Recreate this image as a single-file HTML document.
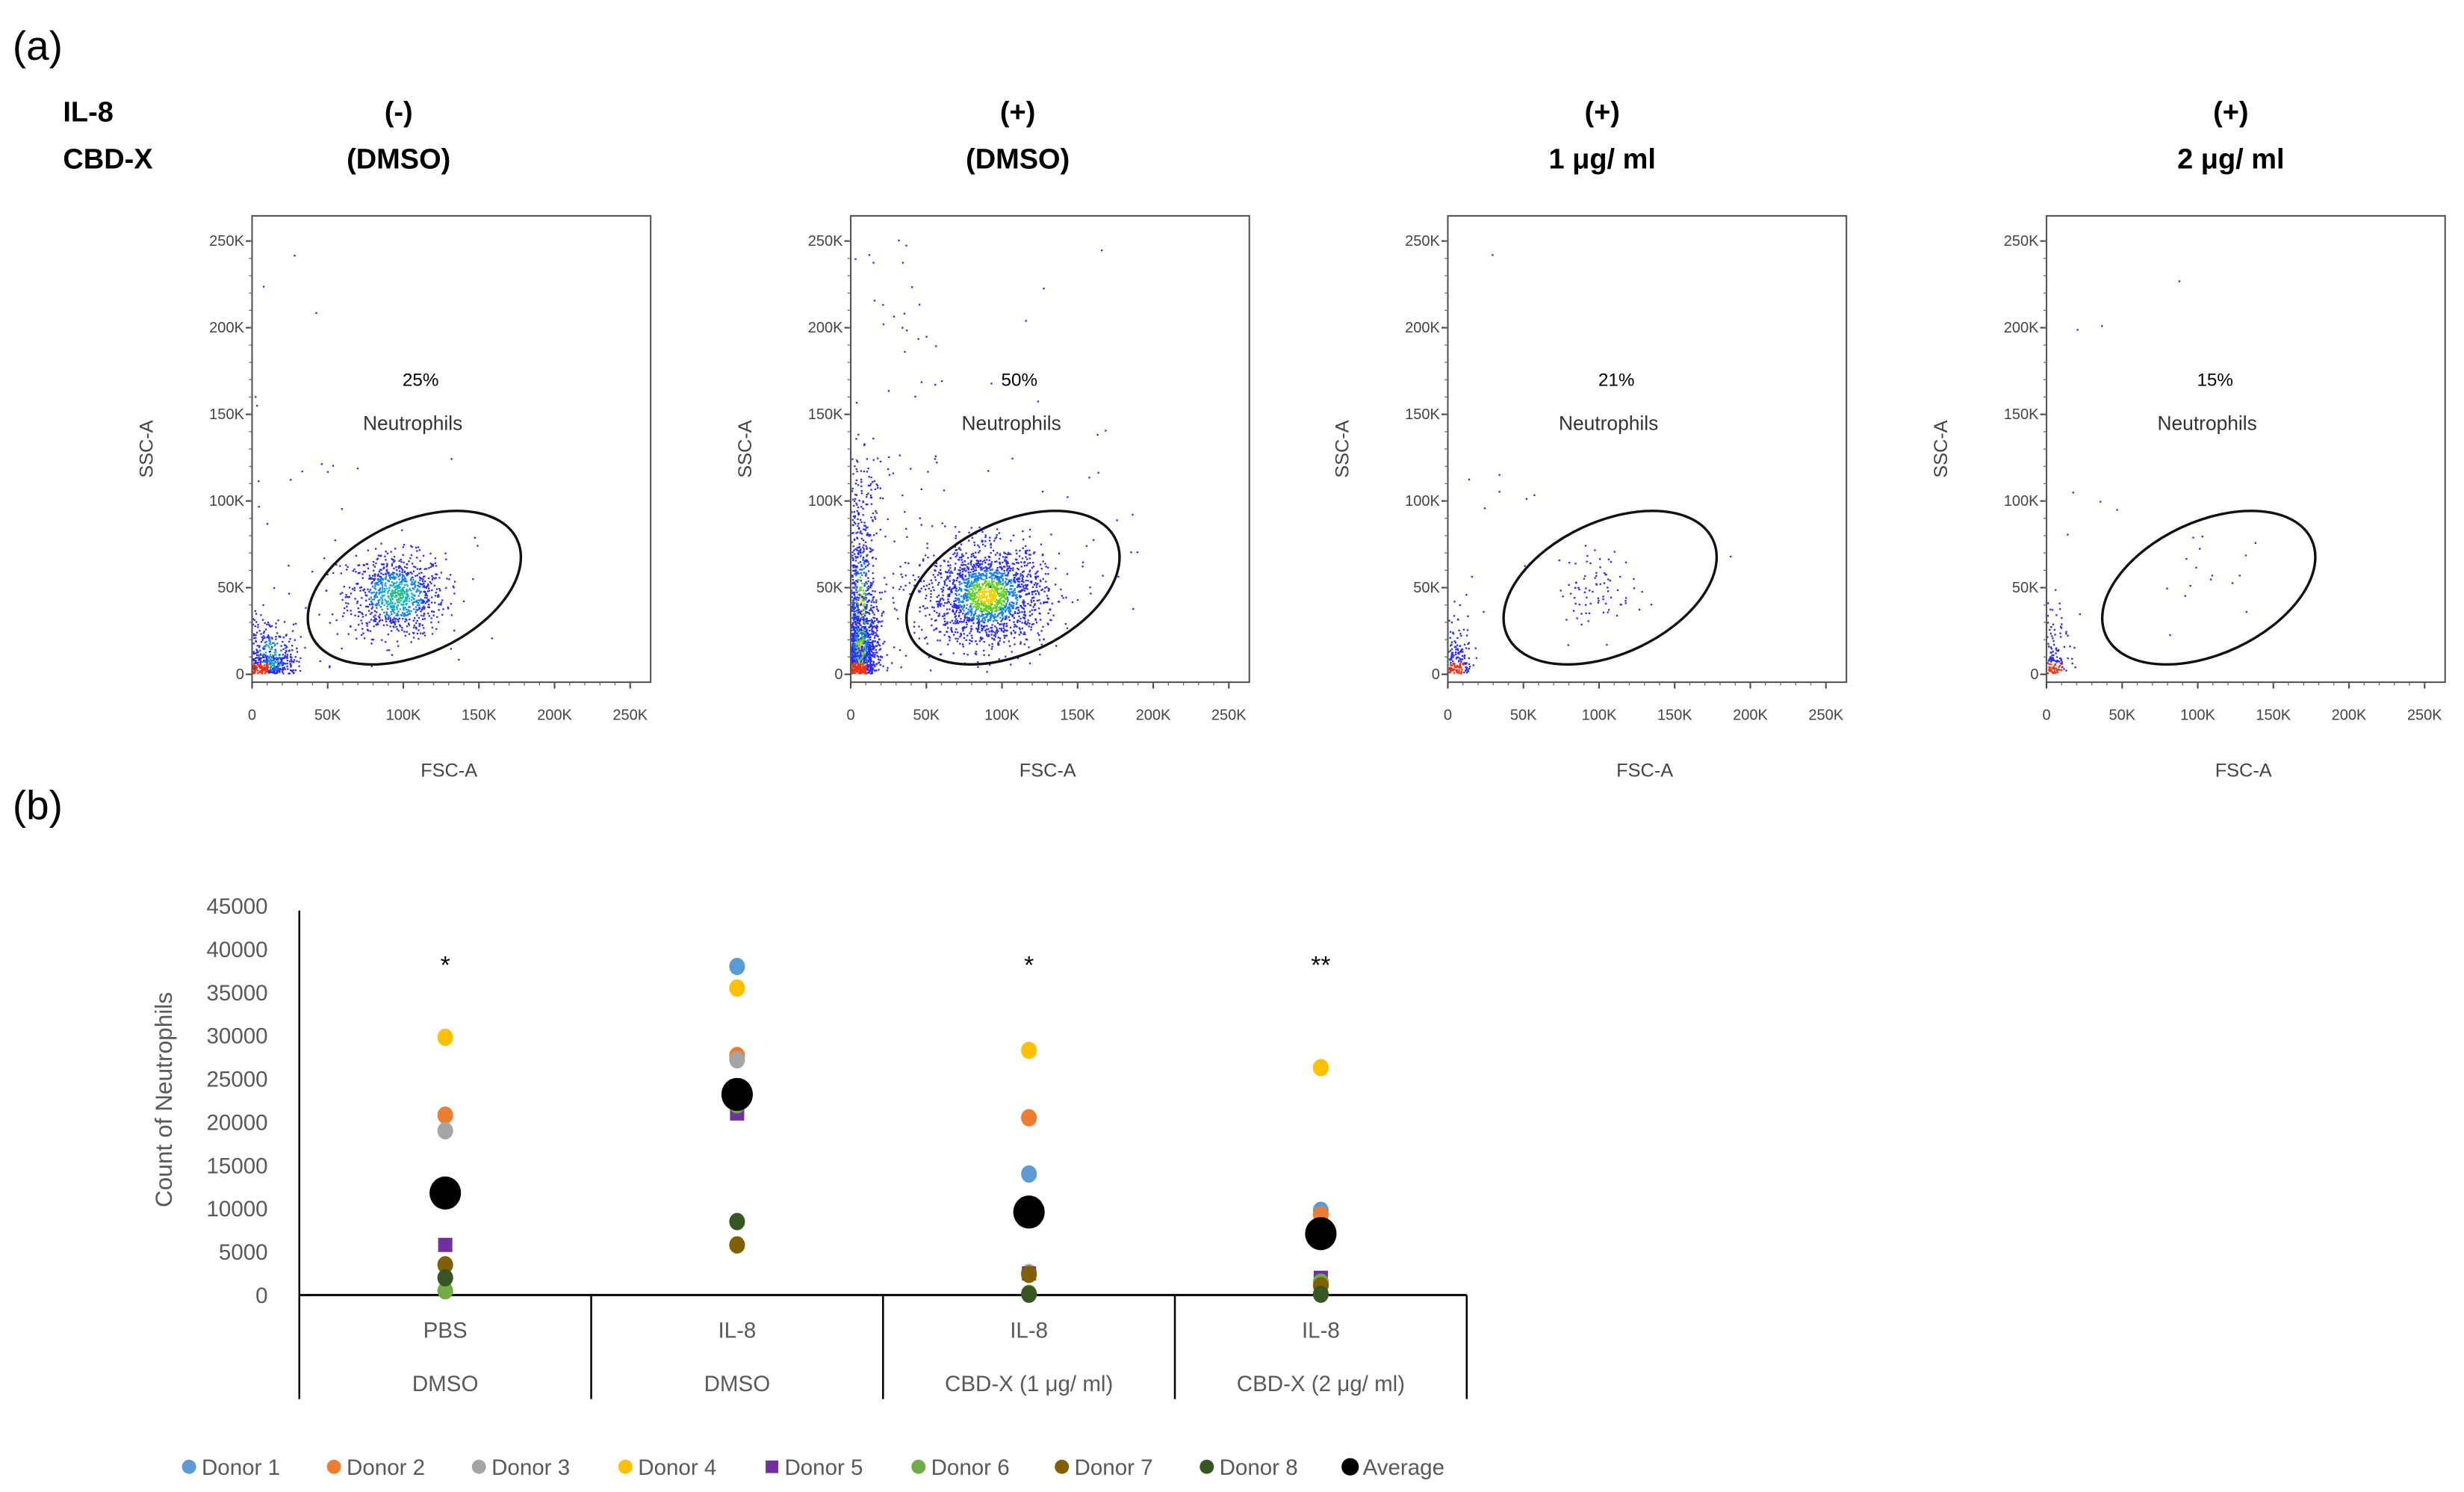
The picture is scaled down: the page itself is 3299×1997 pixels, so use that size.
<!DOCTYPE html>
<html><head><meta charset="utf-8"><style>
html,body{margin:0;padding:0;background:#fff;}
svg{display:block;font-family:"Liberation Sans",sans-serif;}
</style></head><body>
<svg id="fig" width="3299" height="1997" viewBox="0 0 1564 947" preserveAspectRatio="none" xmlns="http://www.w3.org/2000/svg">
<rect width="1564" height="947" fill="#fff"/>
<text x="8" y="38" font-size="26">(a)</text>
<text x="8" y="520" font-size="26">(b)</text>
<text x="40" y="77" font-size="18" font-weight="bold">IL-8</text>
<text x="40" y="107" font-size="18" font-weight="bold">CBD-X</text>
<g id="flow"></g>
<g id="chart"></g>
</svg>
<script>
const NS="http://www.w3.org/2000/svg";
function mk(tag,attrs,parent){const e=document.createElementNS(NS,tag);for(const k in attrs)e.setAttribute(k,attrs[k]);parent.appendChild(e);return e;}

/* ---------- flow cytometry panels ---------- */
const panelHead1=["(-)","(+)","(+)","(+)"];
const panelHead2=["(DMSO)","(DMSO)","1 μg/ ml","2 μg/ ml"];
const panelPct=["25%","50%","21%","15%"];
const panelLeft=[160,540,919,1299];
const headCenter=[253,646,1017,1416];
const flowTicks=[0,50,100,150,200,250];
// clusters: [cxK, cyK, sdxK, sdyK, count]
const neutroCluster=[[95,45,16,12,900],[90,45,19,14,1800],[97,50,12,11,80],[105,55,18,14,12]];
const debrisCluster=[[12,12,9,10,450],[6,35,6,40,1300],[6,12,5,12,160],[5,15,5,16,120]];
const sparseCount=[40,160,14,12];

let seed=12345;
function rnd(){seed=(seed*1103515245+12345)%2147483648;return seed/2147483648;}
function gauss(){let u=rnd()||1e-6,v=rnd();return Math.sqrt(-2*Math.log(u))*Math.cos(2*Math.PI*v);}

const flow=document.getElementById('flow');
const pTop=137,pBot=433,y0=428,ykpx=1.1,xkpx=0.96,boxW=253;
panelLeft.forEach((L,i)=>{
  const g=mk('g',{},flow);
  
  
  const h1=mk('text',{x:headCenter[i],y:77,'font-size':18,'font-weight':'bold','text-anchor':'middle'},g);h1.textContent=panelHead1[i];
  
  const h2=mk('text',{x:headCenter[i],y:107,'font-size':18,'font-weight':'bold','text-anchor':'middle'},g);h2.textContent=panelHead2[i];
  
  const X=k=>L+k*xkpx, Y=k=>y0-k*ykpx;
  const dots=[];
  const nc=neutroCluster[i],dc=debrisCluster[i];
  for(let n=0;n<nc[4];n++){const a=gauss(),b=gauss();dots.push([nc[0]+a*nc[2],nc[1]+b*nc[3],Math.sqrt(a*a+b*b),nc[4]]);}
  for(let n=0;n<dc[4];n++){const a=gauss(),b=gauss();dots.push([Math.abs(dc[0]+a*dc[2]),Math.abs(dc[1]+b*dc[3])*(rnd()<0.5?0.4:1),Math.sqrt(a*a+b*b)*1.3,dc[4]]);}
  for(let n=0;n<sparseCount[i];n++){dots.push([rnd()*120*(rnd()<0.6?0.5:1.6),rnd()*250*(rnd()<0.6?0.5:1),9,0]);}
  dots.forEach(d=>{
    if(d[0]<0||d[0]>258||d[1]<0||d[1]>265)return;
    let c='#2a2aff';
    if(d[3]>300){if(d[2]<0.35)c=(d[3]>1000?'#f0d000':'#20c080');else if(d[2]<0.7)c=(d[3]>1000?'#60d020':'#10b0d0');else if(d[2]<1.1)c='#1080f0';}
    if(d[3]>100&&d[0]<10&&d[1]<6)c='#f03010';
    const r=mk('rect',{x:X(d[0]).toFixed(1),y:(Y(d[1])-1).toFixed(1),width:1.1,height:1.1,fill:c},g);
    
  });
  const box=mk('rect',{x:L,y:pTop,width:boxW,height:pBot-pTop,fill:'none',stroke:'#555','stroke-width':1},g);
  
  flowTicks.forEach(t=>{
    const ty=mk('text',{x:L-5,y:Y(t)+3,'font-size':9.5,'text-anchor':'end',fill:'#444'},g);ty.textContent=t===0?'0':t+'K';
    
    mk('line',{x1:L-4,x2:L,y1:Y(t),y2:Y(t),stroke:'#444'},g);
    const tx=mk('text',{x:X(t),y:457,'font-size':9.5,'text-anchor':'middle',fill:'#444'},g);tx.textContent=t===0?'0':t+'K';
    
    mk('line',{x1:X(t),x2:X(t),y1:pBot,y2:pBot+4,stroke:'#444'},g);
  });
  for(let t=10;t<260;t+=10){mk('line',{x1:L-2,x2:L,y1:Y(t),y2:Y(t),stroke:'#666','stroke-width':0.6},g);mk('line',{x1:X(t),x2:X(t),y1:pBot,y2:pBot+2,stroke:'#666','stroke-width':0.6},g);}
  const fx=mk('text',{x:L+125,y:493,'font-size':12,'text-anchor':'middle',fill:'#444'},g);fx.textContent='FSC-A';
  
  const sy=mk('text',{x:0,y:0,'font-size':12,'text-anchor':'middle',fill:'#444',transform:`translate(${L-63},285) rotate(-90)`},g);sy.textContent='SSC-A';
  
  const pc=mk('text',{x:L+107,y:245,'font-size':11.5,'text-anchor':'middle'},g);pc.textContent=panelPct[i];
  
  const nl=mk('text',{x:L+102,y:273,'font-size':12.5,'text-anchor':'middle',fill:'#333'},g);nl.textContent='Neutrophils';
  
  const el=mk('ellipse',{cx:0,cy:0,rx:72,ry:42,fill:'none',stroke:'#111','stroke-width':1.6,transform:`translate(${L+103},373) rotate(-25)`},g);
  
});

/* ---------- dot chart (b) ---------- */
const categories1=["PBS","IL-8","IL-8","IL-8"];
const categories2=["DMSO","DMSO","CBD-X (1 μg/ ml)","CBD-X (2 μg/ ml)"];
const yTicks=[0,5000,10000,15000,20000,25000,30000,35000,40000,45000];
const seriesNames=["Donor 1","Donor 2","Donor 3","Donor 4","Donor 5","Donor 6","Donor 7","Donor 8","Average"];
const seriesColors=["#5B9BD5","#ED7D31","#A5A5A5","#FFC000","#7030A0","#70AD47","#806000","#375623","#000000"];
const donor1=[11500,38000,14000,9800];
const donor2=[20800,27700,20500,9300];
const donor3=[19000,27200,2600,1200];
const donor4=[29800,35500,28300,26300];
const donor5=[5800,21000,2500,2000];
const donor6=[500,22000,200,1500];
const donor7=[3500,5800,2400,1100];
const donor8=[2000,8500,100,100];
const average=[11800,23200,9600,7100];
const stars=["*","","*","**"];
const seriesValues=[donor1,donor2,donor3,donor4,donor5,donor6,donor7,donor8,average];

const chart=document.getElementById('chart');
const cx0=190,cx1=931,cy0=822,cyTop=575,yMax=45000;
const yS=v=>cy0-(v/yMax)*(cy0-cyTop);
const catW=(cx1-cx0)/categories1.length;
const xS=i=>cx0+catW*(i+0.5);
yTicks.forEach(t=>{const e=mk('text',{x:170,y:yS(t)+5,'font-size':14,'text-anchor':'end',fill:'#595959'},chart);e.textContent=t;
  });
const yt=mk('text',{x:0,y:0,'font-size':15,'text-anchor':'middle',fill:'#595959',transform:`translate(109,698) rotate(-90)`},chart);yt.textContent='Count of Neutrophils';

const ya=mk('line',{x1:cx0,x2:cx0,y1:578,y2:888,stroke:'#000','stroke-width':1.2},chart);

const xa=mk('line',{x1:cx0,x2:cx1,y1:cy0,y2:cy0,stroke:'#000','stroke-width':1.4},chart);

for(let i=1;i<=categories1.length;i++){const s=mk('line',{x1:cx0+catW*i,x2:cx0+catW*i,y1:cy0,y2:888,stroke:'#000','stroke-width':1.2},chart);
  }
categories1.forEach((c,i)=>{
  const a=mk('text',{x:xS(i),y:849,'font-size':14,'text-anchor':'middle',fill:'#595959'},chart);a.textContent=c;
  
  const b=mk('text',{x:xS(i),y:883,'font-size':14,'text-anchor':'middle',fill:'#595959'},chart);b.textContent=categories2[i];
  
  if(stars[i]){const s=mk('text',{x:xS(i),y:618,'font-size':16,'text-anchor':'middle'},chart);s.textContent=stars[i];
    }
});
seriesValues.forEach((arr,si)=>{
  arr.forEach((v,i)=>{
    let e;
    if(si===4){e=mk('rect',{x:xS(i)-4.5,y:yS(v)-4.5,width:9,height:9,fill:seriesColors[si]},chart);}
    else if(si===8){e=mk('ellipse',{cx:xS(i),cy:yS(v),rx:10,ry:10.5,fill:'#000'},chart);}
    else{e=mk('ellipse',{cx:xS(i),cy:yS(v),rx:5,ry:5.5,fill:seriesColors[si]},chart);}
    
    
  });
});
const legX=[120,212,304,397,490,583,674,766,857];
seriesNames.forEach((n,si)=>{
  const g=mk('g',{},chart);
  
  
  const x=legX[si];
  if(si===4)mk('rect',{x:x-4,y:927,width:8,height:8,fill:seriesColors[si]},g);
  else mk('circle',{cx:x,cy:931,r:si===8?5.5:4.5,fill:seriesColors[si]},g);
  const t=mk('text',{x:x+8,y:936,'font-size':14,fill:'#595959'},g);t.textContent=n;
});
</script>
</body></html>
